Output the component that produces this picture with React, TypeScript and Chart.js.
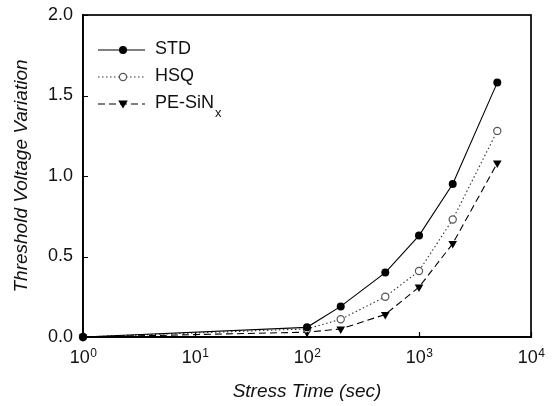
import React, { useEffect, useRef } from "react";
import { Chart, registerables } from "chart.js";

Chart.register(...registerables);

const stressTimes = [1, 100, 200, 500, 1000, 2000, 5000];
const stdValues = [0, 0.06, 0.19, 0.4, 0.63, 0.95, 1.58];
const hsqValues = [0, 0.05, 0.11, 0.25, 0.41, 0.73, 1.28];
const peSinValues = [0, 0.03, 0.05, 0.14, 0.31, 0.58, 1.08];
const xTickExponents = [0, 1, 2, 3, 4];
const yTickValues = [0, 0.5, 1, 1.5, 2];
const xTitle = "Stress Time (sec)";
const yTitle = "Threshold Voltage Variation";
const legendLabels = ["STD", "HSQ", "PE-SiN"];
const legendSubscript = "x";

const FONT = "'Liberation Sans', Arial, Helvetica, sans-serif";

const toPoints = (vals: number[]) => stressTimes.map((t, i) => ({ x: t, y: vals[i] }));

const decorPlugin = {
  id: "decor",
  afterDraw(chart: any) {
    const ctx = chart.ctx;
    const area = chart.chartArea;
    const xs = chart.scales.x;
    const ys = chart.scales.y;
    ctx.save();
    // frame
    ctx.strokeStyle = "#000";
    ctx.lineWidth = 1.7;
    ctx.strokeRect(area.left, area.top, area.right - area.left, area.bottom - area.top);

    // inward tick marks
    ctx.lineWidth = 1.2;
    ctx.beginPath();
    yTickValues.forEach((v) => {
      const py = Math.round(ys.getPixelForValue(v)) + 0.5;
      ctx.moveTo(area.left, py);
      ctx.lineTo(area.left + 5, py);
    });
    xTickExponents.forEach((e) => {
      const px = Math.round(xs.getPixelForValue(Math.pow(10, e))) + 0.5;
      ctx.moveTo(px, area.bottom);
      ctx.lineTo(px, area.bottom - 5);
    });
    ctx.stroke();

    // x tick labels with superscripts
    ctx.fillStyle = "#111";
    ctx.textBaseline = "alphabetic";
    ctx.textAlign = "left";
    xTickExponents.forEach((e) => {
      const px = xs.getPixelForValue(Math.pow(10, e));
      ctx.font = `18px ${FONT}`;
      const wBase = ctx.measureText("10").width;
      ctx.font = `12px ${FONT}`;
      const wExp = ctx.measureText(String(e)).width;
      const start = px - (wBase + wExp) / 2;
      ctx.font = `18px ${FONT}`;
      ctx.fillText("10", start, area.bottom + 26);
      ctx.font = `12px ${FONT}`;
      ctx.fillText(String(e), start + wBase + 0.5, area.bottom + 20);
    });

    // axis titles
    ctx.font = `italic 19px ${FONT}`;
    ctx.textAlign = "center";
    ctx.textBaseline = "middle";
    ctx.fillText(xTitle, (area.left + area.right) / 2, area.bottom + 55);
    ctx.save();
    ctx.translate(area.left - 61, (area.top + area.bottom) / 2);
    ctx.rotate(-Math.PI / 2);
    ctx.fillText(yTitle, 0, 0);
    ctx.restore();

    // legend
    const rows = [area.top + 35, area.top + 62, area.top + 89];
    const x0 = area.left + 15;
    const x1 = area.left + 62;
    const mx = area.left + 40;
    const tx = area.left + 72;
    chart.data.datasets.forEach((ds: any, i: number) => {
      const y = rows[i];
      ctx.strokeStyle = ds.borderColor;
      ctx.lineWidth = 1.1;
      ctx.setLineDash(ds.borderDash || []);
      ctx.beginPath();
      ctx.moveTo(x0, y);
      ctx.lineTo(x1, y);
      ctx.stroke();
      ctx.setLineDash([]);
      if (i === 0) {
        ctx.fillStyle = "#000";
        ctx.beginPath();
        ctx.arc(mx, y, 4, 0, Math.PI * 2);
        ctx.fill();
      } else if (i === 1) {
        ctx.fillStyle = "#fff";
        ctx.strokeStyle = "#555";
        ctx.lineWidth = 1.2;
        ctx.beginPath();
        ctx.arc(mx, y, 3.6, 0, Math.PI * 2);
        ctx.fill();
        ctx.stroke();
      } else {
        ctx.fillStyle = "#000";
        ctx.beginPath();
        ctx.moveTo(mx - 4.8, y - 3.5);
        ctx.lineTo(mx + 4.8, y - 3.5);
        ctx.lineTo(mx, y + 4.5);
        ctx.closePath();
        ctx.fill();
      }
      ctx.fillStyle = "#111";
      ctx.font = `18px ${FONT}`;
      ctx.textAlign = "left";
      ctx.textBaseline = "middle";
      ctx.fillText(legendLabels[i], tx, y - 1);
      if (i === 2) {
        const w = ctx.measureText(legendLabels[i]).width;
        ctx.font = `13px ${FONT}`;
        ctx.fillText(legendSubscript, tx + w + 1, y + 9);
      }
    });
    ctx.restore();
  },
};

export default function App() {
  const ref = useRef<HTMLCanvasElement | null>(null);
  useEffect(() => {
    document.body.style.margin = "0";
    const canvas = ref.current!;
    const chart = new Chart(canvas, {
      type: "scatter",
      data: {
        datasets: [
          {
            label: "STD",
            data: toPoints(stdValues),
            showLine: true,
            borderColor: "#000",
            borderWidth: 1.1,
            pointBackgroundColor: "#000",
            pointBorderColor: "#000",
            pointRadius: 4,
            pointBorderWidth: 0,
            clip: false,
          },
          {
            label: "HSQ",
            data: toPoints(hsqValues),
            showLine: true,
            borderColor: "#333",
            borderWidth: 1.1,
            borderDash: [1.5, 2.5],
            pointBackgroundColor: "#fff",
            pointBorderColor: "#555",
            pointBorderWidth: 1.2,
            pointRadius: 3.6,
            clip: false,
          },
          {
            label: "PE-SiNx",
            data: toPoints(peSinValues),
            showLine: true,
            borderColor: "#000",
            borderWidth: 1.1,
            borderDash: [7, 4],
            pointStyle: "triangle",
            rotation: 180,
            pointBackgroundColor: "#000",
            pointBorderColor: "#000",
            pointBorderWidth: 0,
            pointRadius: 5,
            clip: false,
          },
        ] as any,
      },
      options: {
        animation: false,
        responsive: false,
        maintainAspectRatio: false,
        layout: { padding: { left: 0, right: 22, top: 15, bottom: 0 } },
        plugins: { legend: { display: false }, tooltip: { enabled: false } },
        scales: {
          x: {
            type: "logarithmic",
            min: 1,
            max: 10000,
            afterBuildTicks: (scale: any) => {
              scale.ticks = xTickExponents.map((e) => ({ value: Math.pow(10, e), major: true }));
            },
            afterFit: (scale: any) => {
              scale.height = 69;
              scale.paddingLeft = 0;
              scale.paddingRight = 0;
            },
            ticks: { color: "rgba(0,0,0,0)", autoSkip: false, maxRotation: 0, callback: () => "" },
            grid: { display: false, drawOnChartArea: false, drawTicks: false },
            border: { color: "#000", width: 1.7 },
          },
          y: {
            type: "linear",
            min: 0,
            max: 2,
            afterBuildTicks: (scale: any) => {
              scale.ticks = yTickValues.map((v) => ({ value: v }));
            },
            afterFit: (scale: any) => {
              scale.width = 83;
              scale.paddingTop = 0;
              scale.paddingBottom = 0;
            },
            ticks: {
              color: "#111",
              padding: 10,
              font: { family: FONT, size: 18 },
              callback: (v: any) => Number(v).toFixed(1),
            },
            grid: { display: false, drawOnChartArea: false, drawTicks: false },
            border: { color: "#000", width: 1.7 },
          },
        },
      } as any,
      plugins: [decorPlugin],
    });
    return () => chart.destroy();
  }, []);
  return (
    <div style={{ position: "absolute", left: 0, top: 0, width: 553, height: 406, background: "#fff" }}>
      <canvas ref={ref} width={553} height={406} style={{ width: 553, height: 406 }} />
    </div>
  );
}
